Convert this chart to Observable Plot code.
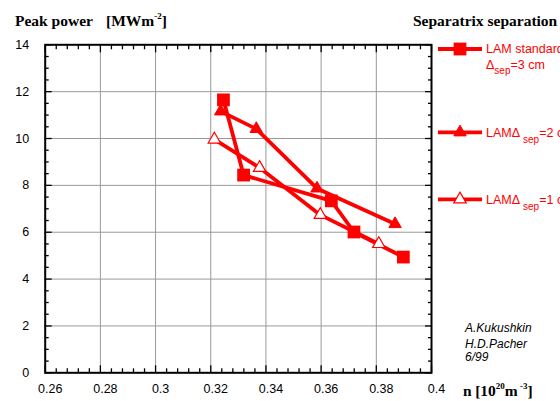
<!DOCTYPE html>
<html>
<head>
<meta charset="utf-8">
<script src="https://cdn.jsdelivr.net/npm/d3@7"></script>
<script src="https://cdn.jsdelivr.net/npm/@observablehq/plot@0.6"></script>
<style>
  html, body { margin: 0; padding: 0; background: #fff; }
  #chart svg { display: block; }
</style>
</head>
<body>
<div id="chart"></div>
<script>
// ---- data ----
const xMajor = [0.26, 0.28, 0.3, 0.32, 0.34, 0.36, 0.38, 0.4];
const xTickLabels = ["0.26", "0.28", "0.3", "0.32", "0.34", "0.36", "0.38", "0.4"];
const yMajor = [0, 2, 4, 6, 8, 10, 12, 14];
const yTickLabels = ["0", "2", "4", "6", "8", "10", "12", "14"];

const stdX = [0.3246, 0.3319, 0.3637, 0.3719, 0.3898];
const stdY = [11.65, 8.44, 7.34, 6.01, 4.94];
const lam2X = [0.3236, 0.3365, 0.3585, 0.3868];
const lam2Y = [11.16, 10.41, 7.87, 6.35];
const lam1X = [0.3213, 0.3377, 0.3597, 0.3809];
const lam1Y = [9.96, 8.75, 6.74, 5.50];

const seriesNames = ["LAM standard", "LAM\u0394 2cm", "LAM\u0394 1cm"];

const toRows = (xs, ys) => xs.map((x, i) => ({x, y: ys[i]}));
const std = toRows(stdX, stdY);
const lam2 = toRows(lam2X, lam2Y);
const lam1 = toRows(lam1X, lam1Y);

const xMinor = d3.range(0, 36).map(i => +(0.26 + i * 0.004).toFixed(4)).filter(v => !xMajor.includes(v));
const yMinor = d3.range(0, 29).map(i => i * 0.5).filter(v => !yMajor.includes(v));

const RED = "#ff0000";
const SANS = "'Liberation Sans', Arial, sans-serif";
const SERIF = "'Liberation Serif', 'Times New Roman', serif";

const sqR = 7.2;   // square ~13px
const triR = 4.6;  // triangle ~12px

const svg = Plot.plot({
  width: 560,
  height: 401,
  marginLeft: 44.7,
  marginRight: 129,
  marginTop: 44.3,
  marginBottom: 28.7,
  style: {fontFamily: SANS, fontSize: "12.5px", color: "black", background: "white", overflow: "hidden"},
  x: {domain: [0.26, 0.4]},
  y: {domain: [0, 14]},
  marks: [
    Plot.gridX(xMajor.slice(1, -1), {stroke: "#999", strokeOpacity: 1, strokeWidth: 1}),
    Plot.gridY(yMajor.slice(1, -1), {stroke: "#999", strokeOpacity: 1, strokeWidth: 1}),
    // inward ticks
    Plot.axisX(xMajor, {anchor: "bottom", tickSize: -7, fill: "none", label: null, strokeWidth: 1.3}),
    Plot.axisX(xMajor, {anchor: "top", tickSize: -7, fill: "none", label: null, strokeWidth: 1.3}),
    Plot.axisX(xMinor, {anchor: "bottom", tickSize: -4, fill: "none", label: null, strokeWidth: 1.3}),
    Plot.axisX(xMinor, {anchor: "top", tickSize: -4, fill: "none", label: null, strokeWidth: 1.3}),
    Plot.axisY(yMajor, {anchor: "left", tickSize: -7, fill: "none", label: null, strokeWidth: 1.3}),
    Plot.axisY(yMajor, {anchor: "right", tickSize: -7, fill: "none", label: null, strokeWidth: 1.3}),
    Plot.axisY(yMinor, {anchor: "left", tickSize: -4, fill: "none", label: null, strokeWidth: 1.3}),
    Plot.axisY(yMinor, {anchor: "right", tickSize: -4, fill: "none", label: null, strokeWidth: 1.3}),
    // labels
    Plot.axisX(xMajor, {anchor: "bottom", tickSize: 0, tickPadding: 11, dx: 5, label: null,
      tickFormat: d => xTickLabels[xMajor.indexOf(d)], fontSize: 12.5, fill: "black"}),
    Plot.axisY(yMajor, {anchor: "left", tickSize: 0, tickPadding: 16, label: null,
      tickFormat: d => yTickLabels[yMajor.indexOf(d)], fontSize: 12.5, fill: "black"}),
    Plot.frame({stroke: "black", strokeWidth: 2}),
    // series lines
    Plot.line(std, {x: "x", y: "y", stroke: RED, strokeWidth: 3.8}),
    Plot.line(lam2, {x: "x", y: "y", stroke: RED, strokeWidth: 3.8}),
    Plot.line(lam1, {x: "x", y: "y", stroke: RED, strokeWidth: 3.8}),
    // markers
    Plot.dot(std, {x: "x", y: "y", symbol: "square", r: sqR, fill: RED, stroke: "none"}),
    Plot.dot(lam2, {x: "x", y: "y", symbol: "triangle", r: triR, fill: RED, stroke: RED, strokeWidth: 1}),
    Plot.dot(lam1, {x: "x", y: "y", symbol: "triangle", r: triR, fill: "white", stroke: RED, strokeWidth: 1.2})
  ]
});

document.getElementById("chart").appendChild(svg);

const S = d3.select(svg);
const G = S.append("g").attr("text-anchor", "start");

// Y title
const t1 = G.append("text").attr("x", 15).attr("y", 26)
  .attr("font-family", SERIF).attr("font-weight", "bold").attr("font-size", 15.5).attr("fill", "black");
t1.append("tspan").text("Peak power");
t1.append("tspan").attr("x", 106).text("[MWm");
t1.append("tspan").attr("font-size", 9).attr("dy", -7).text("-2");
t1.append("tspan").attr("dy", 7).text("]");

// Legend title
G.append("text").attr("x", 413).attr("y", 26)
  .attr("font-family", SERIF).attr("font-weight", "bold").attr("font-size", 15.5).attr("fill", "black")
  .text("Separatrix separation");

// X title
const t2 = G.append("text").attr("x", 463).attr("y", 396)
  .attr("font-family", SERIF).attr("font-weight", "bold").attr("font-size", 15.5).attr("fill", "black");
t2.append("tspan").text("n");
t2.append("tspan").attr("font-size", 8).attr("dy", 9).attr("dx", -3).text("e");
t2.append("tspan").attr("dy", -9).attr("dx", 3).text("[10");
t2.append("tspan").attr("font-size", 9).attr("dy", -7).text("20");
t2.append("tspan").attr("dy", 7).text("m");
t2.append("tspan").attr("font-size", 9).attr("dy", -7).text(" -3");
t2.append("tspan").attr("dy", 7).text("]");

// Legend
const legendRows = [
  {name: seriesNames[0], y: 49, sym: d3.symbolSquare, r: sqR, fill: RED, sw: 0},
  {name: seriesNames[1], y: 132.3, sym: d3.symbolTriangle, r: triR, fill: RED, sw: 1},
  {name: seriesNames[2], y: 199.3, sym: d3.symbolTriangle, r: triR, fill: "white", sw: 1.2}
];
legendRows.forEach((row, i) => {
  G.append("line").attr("x1", 438).attr("x2", 482).attr("y1", row.y).attr("y2", row.y)
    .attr("stroke", RED).attr("stroke-width", 3.8);
  G.append("path").attr("transform", `translate(460,${row.y})`)
    .attr("d", d3.symbol(row.sym, row.r * row.r * Math.PI)())
    .attr("fill", row.fill).attr("stroke", row.sw ? RED : "none").attr("stroke-width", row.sw);
});
// legend texts
const lt = (x, y) => G.append("text").attr("x", x).attr("y", y).attr("font-family", SANS)
  .attr("font-size", 12.5).attr("fill", RED);
lt(486, 53).text("LAM standard");
{
  const t = lt(486, 68.5);
  t.append("tspan").text("\u0394");
  t.append("tspan").attr("font-size", 10).attr("dy", 5).text("sep");
  t.append("tspan").attr("dy", -5).text("=3 cm");
}
[[136.8, "=2 cm"], [203.8, "=1 cm"]].forEach(([y, s]) => {
  const t = lt(486, y);
  t.append("tspan").text("LAM\u0394");
  t.append("tspan").attr("font-size", 10).attr("dy", 6).attr("dx", 3).text("sep");
  t.append("tspan").attr("dy", -6).text(s);
});

// signature
const sig = ["A.Kukushkin", "H.D.Pacher", "6/99"];
[331.5, 347.5, 360.5].forEach((y, i) => {
  G.append("text").attr("x", 465).attr("y", y).attr("font-family", SANS).attr("font-style", "italic")
    .attr("font-size", 12).attr("fill", "black").text(sig[i]);
});
</script>
</body>
</html>
